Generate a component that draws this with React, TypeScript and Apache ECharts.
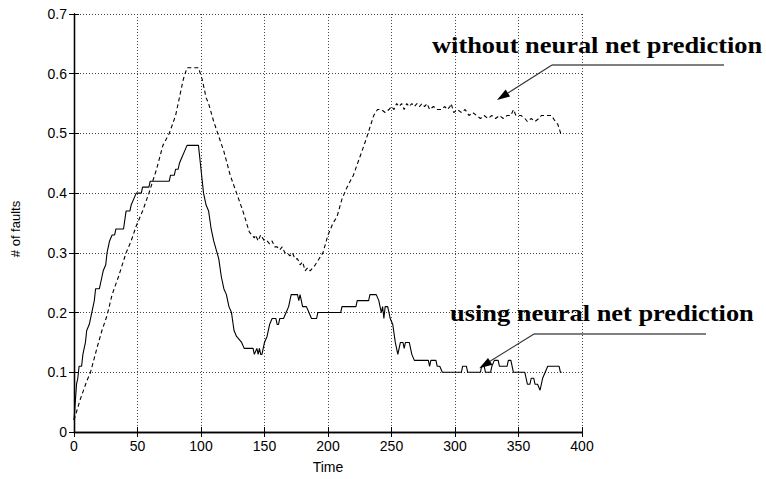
import React, { useEffect, useRef } from "react";
import * as echarts from "echarts";

const xTicks = [0, 50, 100, 150, 200, 250, 300, 350, 400];
const yTicks = [0, 0.1, 0.2, 0.3, 0.4, 0.5, 0.6, 0.7];

const usingTime = [
  0, 1, 2, 3, 4, 6, 7, 9, 10, 12, 14, 16, 17, 20, 22, 23, 25, 26, 28, 30, 32, 33, 39, 41, 44, 45, 47, 49, 53, 54,
  59, 60, 75, 76, 79, 80, 82, 83, 85, 87, 89, 98, 100, 102, 104, 106, 108, 110, 112, 114, 116, 118, 120, 122, 124,
  126, 128, 130, 132, 134, 141, 142, 144, 145, 146, 147, 148, 150, 152, 154, 156, 159, 160, 161, 162, 165, 167, 169,
  171, 176, 177, 178, 180, 183, 185, 187, 191, 192, 210, 211, 222, 223, 232, 233, 238, 240, 241, 242, 243, 244, 245,
  247, 249, 251, 253, 255, 257, 259, 260, 261, 264, 266, 268, 279, 280, 281, 285, 286, 288, 290, 305, 306, 309, 310,
  320, 321, 323, 324, 328, 329, 331, 334, 335, 341, 342, 344, 346, 355, 356, 357, 359, 360, 362, 363, 365, 367, 369,
  371, 373, 382, 383, 384,
];
const usingValue = [
  0.02, 0.05, 0.08, 0.09, 0.11, 0.11, 0.13, 0.15, 0.17, 0.18, 0.2, 0.22, 0.24, 0.24, 0.26, 0.27, 0.28, 0.3, 0.32,
  0.33, 0.33, 0.34, 0.34, 0.37, 0.37, 0.38, 0.39, 0.4, 0.4, 0.41, 0.41, 0.42, 0.42, 0.43, 0.43, 0.44, 0.44, 0.45,
  0.46, 0.47, 0.48, 0.48, 0.44, 0.4, 0.38, 0.37, 0.34, 0.32, 0.305, 0.29, 0.26, 0.24, 0.23, 0.21, 0.2, 0.17, 0.16,
  0.155, 0.15, 0.14, 0.14, 0.13, 0.14, 0.13, 0.14, 0.13, 0.13, 0.15, 0.16, 0.18, 0.19, 0.19, 0.18, 0.18, 0.19, 0.19,
  0.2, 0.21, 0.23, 0.23, 0.22, 0.23, 0.21, 0.21, 0.2, 0.19, 0.19, 0.2, 0.2, 0.21, 0.21, 0.22, 0.22, 0.23, 0.23, 0.22,
  0.21, 0.2, 0.21, 0.19, 0.21, 0.21, 0.19, 0.18, 0.15, 0.13, 0.15, 0.15, 0.14, 0.15, 0.15, 0.13, 0.12, 0.12, 0.11,
  0.12, 0.12, 0.11, 0.11, 0.1, 0.1, 0.11, 0.11, 0.1, 0.1, 0.11, 0.11, 0.1, 0.1, 0.11, 0.12, 0.12, 0.11, 0.11, 0.12,
  0.12, 0.1, 0.1, 0.09, 0.08, 0.08, 0.09, 0.09, 0.08, 0.08, 0.07, 0.09, 0.1, 0.11, 0.11, 0.1, 0.1,
];

const withoutTime = [
  0, 5, 10, 13, 18, 22, 26, 30, 35, 41, 45, 49, 54, 59, 65, 70, 75, 80, 83, 86, 89, 98, 101, 104, 106, 110, 114, 118,
  123, 128, 133, 138, 140, 142, 143, 145, 147, 150, 152, 154, 156, 158, 160, 162, 164, 166, 168, 170, 172, 174, 176,
  178, 180, 182, 184, 186, 188, 190, 193, 196, 200, 204, 207, 211, 215, 220, 225, 230, 233, 236, 239, 242, 245, 248,
  250, 252, 254, 256, 258, 260, 262, 264, 266, 268, 270, 272, 274, 276, 278, 280, 283, 286, 289, 292, 294, 296, 297,
  299, 302, 305, 308, 311, 314, 317, 320, 323, 326, 329, 332, 335, 338, 341, 344, 346, 348, 352, 355, 357, 360, 363,
  366, 368, 372, 376, 379, 381, 384,
];
const withoutValue = [
  0.02, 0.055, 0.085, 0.1, 0.14, 0.17, 0.195, 0.23, 0.26, 0.3, 0.32, 0.345, 0.37, 0.4, 0.44, 0.48, 0.5, 0.53, 0.56,
  0.59, 0.61, 0.61, 0.59, 0.56, 0.55, 0.52, 0.495, 0.47, 0.43, 0.4, 0.37, 0.335, 0.33, 0.325, 0.33, 0.32, 0.33, 0.32,
  0.32, 0.315, 0.32, 0.31, 0.31, 0.305, 0.31, 0.3, 0.3, 0.295, 0.3, 0.29, 0.29, 0.28, 0.285, 0.27, 0.275, 0.27,
  0.275, 0.28, 0.29, 0.3, 0.33, 0.35, 0.36, 0.39, 0.41, 0.43, 0.46, 0.49, 0.51, 0.53, 0.54, 0.54, 0.535, 0.54, 0.545,
  0.54, 0.55, 0.545, 0.55, 0.54, 0.55, 0.545, 0.55, 0.545, 0.55, 0.545, 0.55, 0.545, 0.55, 0.54, 0.545, 0.54, 0.54,
  0.545, 0.54, 0.545, 0.55, 0.535, 0.54, 0.535, 0.54, 0.53, 0.535, 0.53, 0.525, 0.53, 0.525, 0.53, 0.525, 0.53,
  0.525, 0.53, 0.53, 0.54, 0.53, 0.53, 0.525, 0.52, 0.525, 0.52, 0.525, 0.53, 0.53, 0.53, 0.52, 0.515, 0.495,
];

const labelWithout = "without neural net prediction";
const labelUsing = "using neural net prediction";

export default function App() {
  const ref = useRef<HTMLDivElement>(null);
  useEffect(() => {
    if (!ref.current) return;
    const chart = echarts.init(ref.current, undefined, { renderer: "svg" });
    const narrow = '"Liberation Sans Narrow", "Arial Narrow", "Liberation Sans", sans-serif';
    const tickFont = { fontFamily: narrow, fontSize: 14, color: "#000" };
    const splitLine = { show: true, lineStyle: { color: "#444", type: [1, 2] as any, width: 1 } };
    const axisLine = { show: true, lineStyle: { color: "#000", width: 1.3 } };
    const tick = { show: true, inside: true, length: 5, lineStyle: { color: "#000" } };
    const boldSerif = { fontFamily: "Liberation Serif", fontWeight: "bold" as any, fontSize: 24, fill: "#000" };
    chart.setOption({
      animation: false,
      backgroundColor: "#fff",
      grid: { left: 74, right: 184, top: 14, bottom: 35, containLabel: false },
      xAxis: [
        {
          type: "value",
          min: 0,
          max: 400,
          interval: 50,
          name: "Time",
          nameLocation: "middle",
          nameGap: 28,
          nameTextStyle: { fontFamily: narrow, fontSize: 14, color: "#000" },
          axisLine,
          axisTick: tick,
          axisLabel: { ...tickFont, margin: 7, formatter: (v: number) => (xTicks.includes(v) ? String(v) : "") },
          splitLine,
        },
        {
          type: "value",
          position: "top",
          min: 0,
          max: 400,
          interval: 50,
          axisLine,
          axisTick: tick,
          axisLabel: { show: false },
          splitLine: { show: false },
        },
      ],
      yAxis: [
        {
          type: "value",
          min: 0,
          max: 0.7,
          interval: 0.1,
          axisLine,
          axisTick: tick,
          axisLabel: {
            ...tickFont,
            margin: 7,
            formatter: (v: number) => {
              const r = Math.round(v * 10) / 10;
              return yTicks.includes(r) ? String(r) : "";
            },
          },
          splitLine,
        },
        {
          type: "value",
          position: "right",
          min: 0,
          max: 0.7,
          interval: 0.1,
          axisLine,
          axisTick: tick,
          axisLabel: { show: false },
          splitLine: { show: false },
        },
      ],
      series: [
        {
          type: "line",
          name: "using",
          data: usingTime.map((t, i) => [t, usingValue[i]]),
          showSymbol: false,
          lineStyle: { color: "#000", width: 1.1 },
        },
        {
          type: "line",
          name: "without",
          data: withoutTime.map((t, i) => [t, withoutValue[i]]),
          showSymbol: false,
          lineStyle: { color: "#000", width: 1.1, type: [4, 3] },
        },
      ],
      graphic: [
        {
          type: "text",
          x: 15,
          y: 229,
          rotation: Math.PI / 2,
          style: {
            text: "# of faults",
            fontFamily: "Liberation Sans",
            fontSize: 13,
            fill: "#000",
            align: "center",
            verticalAlign: "middle",
          },
        },
        {
          type: "text",
          x: 432,
          y: 45,
          scaleX: 1.1,
          style: { ...boldSerif, text: labelWithout, align: "left", verticalAlign: "middle" },
          z: 100,
        },
        {
          type: "text",
          x: 450,
          y: 313,
          scaleX: 1.1,
          style: { ...boldSerif, text: labelUsing, align: "left", verticalAlign: "middle" },
          z: 100,
        },
        { type: "line", shape: { x1: 552, y1: 65, x2: 724, y2: 65 }, style: { stroke: "#555", lineWidth: 1.3 }, z: 100 },
        { type: "line", shape: { x1: 552, y1: 65, x2: 508, y2: 93 }, style: { stroke: "#333", lineWidth: 1.1 }, z: 100 },
        {
          type: "polygon",
          shape: { points: [[497, 100], [510.1, 96.4], [505.7, 89.6]] },
          style: { fill: "#000" },
          z: 100,
        },
        { type: "line", shape: { x1: 534, y1: 334, x2: 706, y2: 334 }, style: { stroke: "#555", lineWidth: 1.3 }, z: 100 },
        { type: "line", shape: { x1: 534, y1: 334, x2: 490, y2: 361.3 }, style: { stroke: "#333", lineWidth: 1.1 }, z: 100 },
        {
          type: "polygon",
          shape: { points: [[479.3, 368.3], [492.4, 364.7], [488, 357.9]] },
          style: { fill: "#000" },
          z: 100,
        },
      ],
    });
    return () => chart.dispose();
  }, []);
  return <div ref={ref} style={{ position: "fixed", left: 0, top: 0, width: 766, height: 479 }} />;
}
